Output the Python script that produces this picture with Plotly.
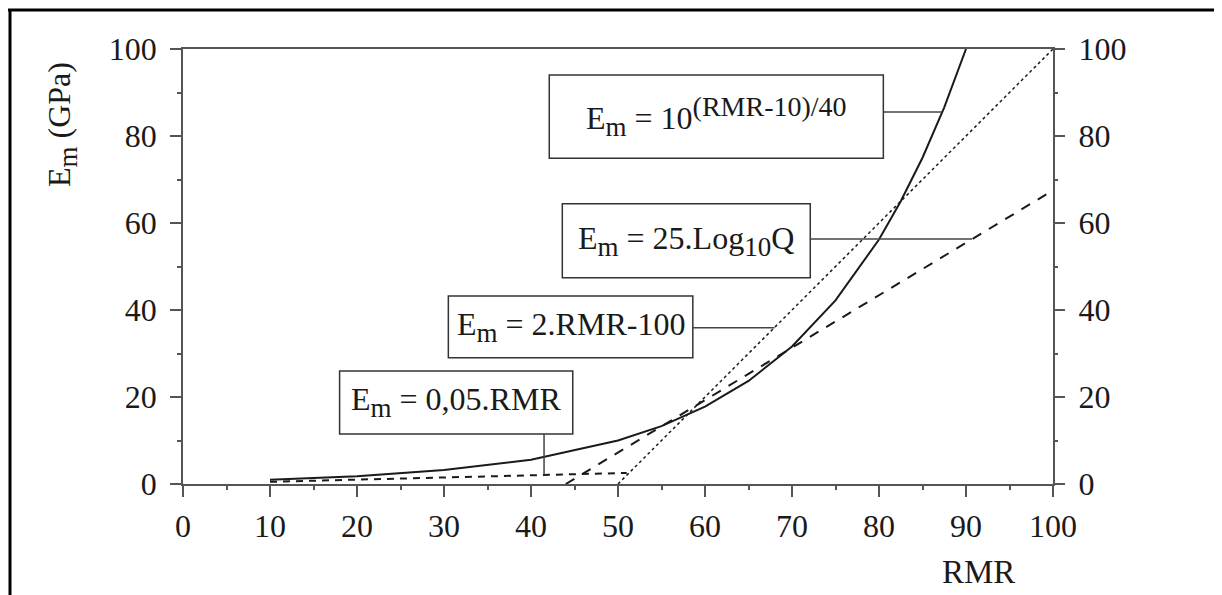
import plotly.graph_objects as go

# ---- data ----
rmr_exp = [10, 20, 30, 40, 50, 55, 60, 65, 70, 75, 80, 82.5, 85, 87.5, 90]
em_exp = [1.0, 1.8, 3.2, 5.6, 10.0, 13.3, 17.8, 23.7, 31.6, 42.2, 56.2, 65.0, 75.0, 86.6, 100.0]

rmr_lin2 = [50, 100]
em_lin2 = [0, 100]

rmr_logq = [44, 100]
em_logq = [0, 67.5]

rmr_005 = [10, 51]
em_005 = [0.5, 2.55]

x_ticks = [0, 10, 20, 30, 40, 50, 60, 70, 80, 90, 100]
y_ticks = [0, 20, 40, 60, 80, 100]

SUB = "<sub><span style='font-size:27px'>%s</span></sub>"
SUP = "<sup><span style='font-size:28px'>%s</span></sup>"
labels = [
    "E" + SUB % "m" + " = 10" + SUP % "(RMR-10)/40",
    "E" + SUB % "m" + " = 25.Log" + SUB % "10" + "Q",
    "E" + SUB % "m" + " = 2.RMR-100",
    "E" + SUB % "m" + " = 0,05.RMR",
]

FONT = "Liberation Serif"
INK = "#1a1a1a"
AX = "#555555"

fig = go.Figure()
fig.add_trace(go.Scatter(x=rmr_exp, y=em_exp, mode="lines", line=dict(color=INK, width=2), hoverinfo="skip"))
fig.add_trace(go.Scatter(x=rmr_lin2, y=em_lin2, mode="lines", line=dict(color=INK, width=1.5, dash="dot"), hoverinfo="skip"))
fig.add_trace(go.Scatter(x=rmr_logq, y=em_logq, mode="lines", line=dict(color=INK, width=2, dash="10px,9px"), hoverinfo="skip"))
fig.add_trace(go.Scatter(x=rmr_005, y=em_005, mode="lines", line=dict(color=INK, width=2, dash="7px,6px"), hoverinfo="skip"))
# invisible trace to anchor the right axis
fig.add_trace(go.Scatter(x=[0], y=[0], yaxis="y2", mode="markers", marker=dict(opacity=0), hoverinfo="skip"))

# ---- boxes, labels and leader lines (layout, data units) ----
boxes = [
    (42.1, 80.5, 74.9, 94.0),
    (43.6, 72.1, 47.4, 64.4),
    (30.5, 58.6, 29.0, 43.2),
    (18.0, 44.8, 11.5, 26.0),
]
leaders = [
    (80.5, 85.5, 87.2, 85.5),
    (72.1, 56.3, 90.7, 56.3),
    (58.6, 35.9, 68.0, 35.9),
    (41.5, 11.5, 41.5, 2.1),
]
for (x0, x1, y0, y1), txt in zip(boxes, labels):
    fig.add_shape(type="rect", xref="x", yref="y", x0=x0, x1=x1, y0=y0, y1=y1,
                  line=dict(color="#333333", width=1.5), fillcolor="white", layer="above")
    fig.add_annotation(x=(x0 + x1) / 2, y=(y0 + y1) / 2, xref="x", yref="y", text=txt,
                       xanchor="center", yanchor="middle",
                       showarrow=False, font=dict(family=FONT, size=32, color=INK))
for (xa, ya, xb, yb) in leaders:
    fig.add_shape(type="line", xref="x", yref="y", x0=xa, y0=ya, x1=xb, y1=yb,
                  line=dict(color="#444444", width=1.5), layer="above")

# page geometry helpers (page pixels -> paper coords); plot area spans page x 183..1053, y 49..484
L, T = 183, 49
W, H = 870, 435
def px(xp):
    return (xp - L) / W
def py(yp):
    return (T + H - yp) / H

# axis titles
fig.add_annotation(x=px(62), y=py(125), xref="paper", yref="paper",
                   text="E" + SUB % "m" + " (GPa)", xanchor="center", yanchor="middle",
                   textangle=-90, showarrow=False, font=dict(family=FONT, size=32, color=INK))
fig.add_annotation(x=px(978), y=py(572), xref="paper", yref="paper", text="RMR",
                   xanchor="center", yanchor="middle",
                   showarrow=False, font=dict(family=FONT, size=33, color=INK))

# outer frame (top and left)
fig.add_shape(type="line", xref="paper", yref="paper", x0=px(8), y0=py(10), x1=px(1240), y1=py(10),
              line=dict(color="black", width=3))
fig.add_shape(type="line", xref="paper", yref="paper", x0=px(10), y0=py(10), x1=px(10), y1=py(620),
              line=dict(color="black", width=3))

tickfont = dict(family=FONT, size=32, color=INK)
fig.update_layout(
    width=1222, height=595,
    margin=dict(l=175, r=177, t=41, b=119),
    paper_bgcolor="white", plot_bgcolor="white",
    showlegend=False,
    xaxis=dict(range=[0, 100], tickvals=x_ticks, ticks="outside", ticklen=11, tickwidth=1.5,
               tickcolor=AX, showline=True, linecolor=AX, linewidth=1.5, mirror=True,
               showgrid=False, zeroline=False, tickfont=tickfont, ticklabelstandoff=2,
               minor=dict(dtick=5, ticks="outside", ticklen=4, tickcolor=AX)),
    yaxis=dict(range=[0, 100], tickvals=y_ticks, ticks="outside", ticklen=11, tickwidth=1.5,
               tickcolor=AX, showline=True, linecolor=AX, linewidth=1.5, mirror=True,
               showgrid=False, zeroline=False, tickfont=tickfont, ticklabelstandoff=7,
               minor=dict(dtick=10, ticks="outside", ticklen=4, tickcolor=AX)),
    yaxis2=dict(range=[0, 100], tickvals=y_ticks, overlaying="y", side="right", ticks="outside",
                ticklen=11, tickwidth=1.5, tickcolor=AX, showline=False, showgrid=False,
                zeroline=False, tickfont=tickfont, ticklabelstandoff=7,
                minor=dict(dtick=10, ticks="outside", ticklen=4, tickcolor=AX)),
)

fig.write_html("out.html")
